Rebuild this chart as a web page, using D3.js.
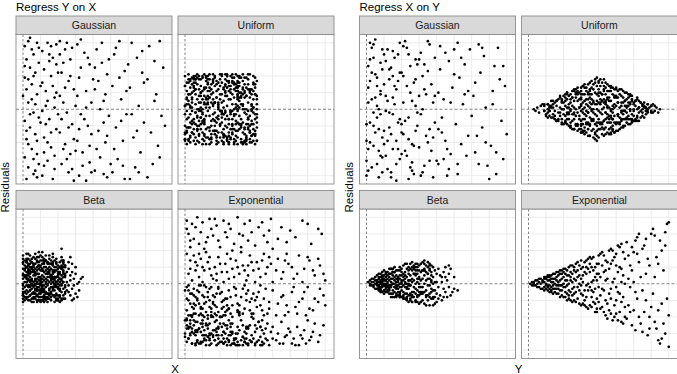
<!DOCTYPE html>
<html>
<head>
<meta charset="utf-8">
<title>Residual plots</title>
<style>
  body { margin: 0; background: #fff; }
  svg text { font-family: "Liberation Sans", Arial, sans-serif; }
</style>
</head>
<body>
<svg id="chart"></svg>
<script src="https://cdn.jsdelivr.net/npm/d3@7/dist/d3.min.js"></script>
<script>
// points, flat lists of x, residual (x in grid units*10, residual in grid units*10)
const yxGaussian = [
  1,38, 3,41, 5,36, 2,30, 6,33, 8,40, 4,25, 1,19, 7,22, 9,28, 2,12, 5,15, 8,9, 3,4, 6,-2, 1,-7, 4,-11, 9,-5, 2,-18, 7,-15, 5,-24, 1,-29, 8,-27, 3,-35, 6,-39, 9,-33, 2,-42, 4,-3, 7,3, 0,8, 10,14, 6,20, 3,-21, 8,-19, 1,26, 9,37, 5,6, 2,-13, 7,-37, 4,43, 10,-8, 6,-30, 3,18, 8,-41,
  11,35, 14,40, 17,31, 12,24, 16,20, 19,27, 13,11, 18,7, 11,-1, 15,-6, 19,-12, 12,-17, 16,-23, 14,-31, 18,-36, 11,-40, 13,2, 17,14, 20,-3, 15,29, 12,-26, 19,39, 16,-14, 14,5, 18,-28, 11,16, 20,22, 13,-9, 17,-42, 15,33, 19,10, 12,-34, 16,38, 14,-20, 18,1,
  21,41, 24,36, 27,30, 22,22, 26,17, 29,12, 23,4, 25,-2, 28,-9, 21,-14, 24,-21, 27,-27, 22,-33, 26,-38, 29,-43, 23,28, 28,37, 21,8, 25,-30, 29,-18, 22,-6, 27,20, 24,13, 26,-11, 30,2, 23,-24, 28,-36, 21,33, 25,40, 30,-25,
  31,39, 35,34, 38,27, 32,19, 36,11, 39,4, 33,-3, 37,-10, 31,-19, 34,-26, 38,-32, 32,-40, 36,-43, 33,25, 39,-15, 35,-6, 31,8, 37,31, 34,-34, 40,18, 32,-12, 38,-22, 36,1, 33,42, 39,-38,
  42,36, 45,28, 48,21, 41,12, 46,5, 49,-4, 43,-13, 47,-20, 44,-29, 41,-37, 48,-41, 45,40, 43,17, 49,30, 46,-8, 42,-24, 47,9, 44,0, 50,-33, 41,25, 48,-16, 46,-39,
  52,33, 55,41, 58,23, 51,14, 56,6, 59,-3, 53,-11, 57,-19, 54,-30, 51,-38, 58,-42, 55,19, 60,27, 52,-24, 56,-7, 59,11, 53,37, 57,-34,
  62,40, 65,31, 68,22, 61,13, 66,2, 69,-8, 63,-17, 67,-26, 64,-35, 61,-42, 68,35, 65,-13, 62,-3, 69,16, 66,-38,
  72,38, 75,29, 78,41, 71,18, 76,9, 79,-4, 73,-14, 77,-22, 74,-33, 71,-41, 80,25, 78,-29, 75,5, 81,-10
]
const yxUniform = [
  0,20, 3,17, 7,21, 9,14, 1,11, 5,13, 8,8, 2,5, 6,3, 10,6, 4,-1, 0,-3, 7,-4, 9,-9, 3,-8, 1,-14, 5,-12, 8,-16, 2,-19, 6,-21, 10,-18, 4,19, 8,18, 1,16, 6,9, 3,1, 9,1, 0,-10, 5,-6, 7,-13, 3,-17, 10,-21, 2,21, 5,16, 9,10, 1,7, 7,6, 4,10, 0,2, 6,-2, 10,-3, 2,-5, 8,-7, 4,-14, 0,-18, 6,-17, 9,-12, 3,13, 7,15, 10,19, 1,-21, 5,-19, 8,-20, 2,-11, 6,-9, 4,4, 9,-1, 0,14, 3,-3, 7,0, 5,20, 8,12, 2,9, 10,11, 1,-6, 6,12, 4,-9, 9,4, 3,-20, 7,-19, 0,-15, 5,-15, 10,-14, 2,18, 6,18, 8,-10, 1,3, 4,7,
  11,21, 14,18, 17,20, 19,16, 12,13, 15,15, 18,11, 13,8, 16,6, 20,9, 11,3, 14,1, 17,-2, 19,3, 12,-4, 15,-7, 18,-5, 13,-11, 16,-13, 20,-9, 11,-16, 14,-18, 17,-15, 19,-20, 12,-21, 15,-20, 18,-19, 13,18, 16,21, 20,18, 11,8, 14,11, 17,14, 19,12, 12,6, 15,4, 18,7, 13,-1, 16,-3, 20,-1, 11,-9, 14,-13, 17,-10, 19,-14, 12,-17, 15,-15, 18,-21, 13,15, 16,10, 20,14, 11,-6, 14,-4, 17,-7, 19,-4, 12,1, 15,-10, 18,-13, 13,20, 16,16, 20,21, 11,12, 14,7, 17,4, 19,0, 12,-12, 15,-18, 18,-16, 14,-21, 16,2, 13,4, 17,19, 11,-19, 20,-17, 15,9,
  21,20, 24,17, 27,21, 29,15, 22,13, 25,11, 28,12, 23,8, 26,6, 30,9, 21,4, 24,2, 27,-1, 29,3, 22,-3, 25,-6, 28,-4, 23,-10, 26,-12, 30,-8, 21,-14, 24,-17, 27,-15, 29,-19, 22,-21, 25,-20, 28,-18, 23,18, 26,20, 30,17, 21,9, 24,13, 27,16, 29,11, 22,5, 25,6, 28,7, 23,-1, 26,-2, 30,0, 21,-8, 24,-11, 27,-9, 29,-13, 22,-17, 25,-14, 28,-21, 23,15, 26,14, 30,20, 21,-5, 24,-4, 27,-6, 29,-3, 22,1, 25,-9, 28,-12, 23,21, 26,10, 30,13, 21,16, 24,8, 27,3, 29,-16, 22,-12, 25,-21, 28,0, 24,20, 26,-17, 23,11, 27,19, 21,-19, 30,-21, 25,16,
  31,19, 33,21, 36,18, 39,20, 41,17, 30,14, 34,15, 37,12, 40,13, 32,10, 35,8, 38,9, 41,6, 31,5, 33,2, 36,4, 39,1, 30,-1, 34,-2, 37,-4, 40,-3, 32,-6, 35,-9, 38,-7, 41,-11, 31,-12, 33,-14, 36,-11, 39,-15, 30,-17, 34,-19, 37,-18, 40,-21, 32,-20, 35,-16, 38,-20, 41,-19, 31,16, 33,17, 36,15, 39,16, 30,11, 34,11, 37,7, 40,9, 32,3, 35,0, 38,3, 41,0, 31,-4, 33,-8, 36,-6, 39,-9, 30,-13, 34,-15, 37,-14, 40,-16, 32,-18, 35,-21, 38,-16, 31,20, 34,19, 37,21, 40,19, 33,12, 36,12, 39,6, 32,7, 35,-3, 38,-1, 31,-9, 34,-11, 37,-20, 39,-12, 33,-21, 36,-1, 40,-6, 41,3, 30,7, 35,19,
  17,-7, 4,15, 33,3, 26,-18, 9,10, 39,-2, 12,19, 1,-13, 30,6, 22,-20, 6,12, 36,-5, 19,1, 27,17, 14,-11, 41,8, 3,-16, 24,20, 31,-9, 8,4, 37,-14, 11,13, 28,-3, 16,18, 0,-19, 34,7, 21,-1, 5,11, 40,-15, 13,16, 25,-6, 38,2, 7,-12, 29,21, 18,-8, 2,9, 35,-17, 23,14, 10,0, 32,-10,
  17,-13, 4,6, 33,-20, 26,12, 9,-5, 39,1, 12,17, 1,-11, 30,8, 22,-16, 6,20, 36,-9, 19,4, 27,-14, 14,13, 41,-3, 3,18, 24,-19, 31,7, 8,-1, 37,11, 11,-15, 28,16, 16,-6, 0,2, 34,-12, 21,21, 5,-8, 40,9, 13,-17, 25,14, 38,0, 7,-10, 29,-7, 18,15, 2,3, 35,-18, 23,10, 10,-2, 32,19,
  17,4, 4,-14, 33,13, 26,-3, 9,18, 39,-19, 12,7, 1,-1, 30,11, 22,-15, 6,16, 36,-6, 19,2, 27,-12, 14,21, 41,-8, 3,9, 24,-17, 31,14, 8,0, 37,-10, 11,-7, 28,15, 16,3, 0,-18, 34,10, 21,-2, 5,19, 40,-13, 13,6, 25,-20, 38,12, 7,-5, 29,1, 18,17, 2,-11, 35,8, 23,-16, 10,20, 32,-9,
  18,-17, 5,14, 34,0, 27,-10, 10,-7, 40,15, 13,3, 2,-18, 31,10, 23,-2, 7,19, 37,-13, 20,6, 28,-20, 15,12, 41,-5, 4,1, 25,17, 32,-11, 9,8, 38,-16, 12,20, 29,-9, 17,4, 1,-14, 35,13, 22,-3, 6,18, 41,-19, 14,7, 26,-1, 39,11, 8,-15, 30,16, 19,-6, 3,2, 36,-12, 24,21, 11,-8, 33,9,
  16,17, 3,-11, 32,8, 25,-16, 8,20, 38,-9, 11,4, 0,-14, 29,13, 21,-3, 5,18, 35,-19, 18,7, 26,-1, 13,11, 40,-15, 2,16, 23,-6, 30,2, 7,-12, 36,21, 10,-8, 27,9, 15,-17, 0,14, 33,0, 20,-10, 4,-7, 39,15, 12,3, 24,-18, 37,10, 6,-2, 28,19, 17,-13, 1,6, 34,-20, 22,12, 9,-5, 31,1
]
const yxBeta = [
  0,12, 2,15, 4,17, 1,9, 3,11, 5,13, 6,16, 0,6, 2,4, 4,8, 6,10, 1,1, 3,-1, 5,3, 0,-3, 2,-6, 4,-4, 6,-2, 1,-8, 3,-10, 5,-9, 0,-11, 2,-1, 4,1, 6,5, 1,14, 3,18, 5,7, 0,17, 2,10, 4,-7, 6,-8, 1,-5, 3,5, 5,-6, 0,0, 2,-9, 4,12, 6,-11, 1,4, 3,8, 5,0, 0,9, 2,13, 4,-10, 6,1, 1,-10, 3,2, 5,-3, 0,-7, 2,7, 4,4, 6,12, 3,15, 5,10, 1,-2, 3,-5, 5,15, 2,18, 0,3, 6,-5, 4,-1, 1,11, 3,-8, 5,-11, 2,-4, 6,8, 0,15, 4,14, 2,1,
  7,18, 9,16, 11,19, 8,13, 10,14, 12,12, 7,9, 9,11, 11,8, 8,6, 10,4, 12,7, 7,2, 9,0, 11,3, 8,-2, 10,-4, 12,-1, 7,-6, 9,-8, 11,-5, 8,-10, 10,-11, 12,-9, 7,15, 9,13, 11,16, 8,10, 10,8, 12,10, 7,5, 9,6, 11,1, 8,1, 10,-1, 12,-5, 7,-3, 9,-4, 11,-8, 8,-7, 10,-8, 12,-11, 9,19, 11,12, 7,12, 10,17, 12,15, 8,16, 9,2, 11,-2, 7,-9, 10,0, 12,2, 8,-4, 9,-10, 11,-10, 7,-1, 10,11, 12,4, 8,3, 9,9, 11,5, 7,7, 10,-6, 12,-7, 8,-11, 9,-6, 11,14, 10,2,
  13,17, 15,15, 17,16, 14,13, 16,12, 18,14, 13,10, 15,8, 17,11, 14,6, 16,5, 18,7, 13,3, 15,1, 17,4, 14,-1, 16,-2, 18,0, 13,-5, 15,-6, 17,-4, 14,-9, 16,-10, 18,-8, 13,14, 15,12, 17,13, 14,9, 16,9, 18,10, 13,6, 15,4, 17,6, 14,2, 16,0, 18,3, 13,-2, 15,-3, 17,-7, 14,-6, 16,-8, 18,-11, 15,17, 17,18, 13,-9, 16,14, 14,-11, 18,-4, 15,-9, 17,1, 13,0, 16,3, 14,4, 18,-2, 15,10, 17,8, 13,8, 16,-5,
  19,15, 21,13, 23,14, 20,11, 22,9, 24,11, 19,8, 21,6, 23,7, 20,4, 22,2, 24,5, 19,1, 21,-1, 23,1, 20,-3, 22,-5, 24,-2, 19,-6, 21,-8, 23,-7, 20,-10, 22,-9, 24,-6, 19,12, 21,10, 23,10, 20,7, 22,5, 25,7, 19,4, 21,3, 23,-3, 20,0, 22,-1, 25,-4, 19,-2, 21,-4, 24,-9, 20,-7, 22,16, 19,-9, 23,4, 25,1, 21,-11,
  26,9, 28,12, 27,5, 29,3, 26,-1, 28,-3, 27,-7, 29,-9, 30,6, 31,0, 32,-4, 26,13, 28,7, 30,-6, 27,2, 33,3, 29,-1, 31,-8, 26,-5, 34,4, 30,10, 28,-10, 32,1, 27,16, 22,21,
  11,-4, 3,9, 19,1, 7,-8, 23,12, 0,-1, 15,6, 9,-10, 21,3, 5,13, 13,-6, 1,8, 17,-2, 24,10, 8,0, 20,-9, 2,5, 12,-3, 6,11, 18,-7, 4,2, 22,14, 10,-5, 14,7, 16,4,
  11,-1, 3,6, 19,-10, 7,3, 23,13, 0,-6, 15,8, 9,-2, 21,10, 5,0, 13,-9, 1,5, 17,-3, 24,11, 8,-7, 20,2, 2,14, 12,-5, 6,7, 18,4, 4,-4, 22,9, 10,1, 14,-8, 16,12,
  11,8, 3,-2, 19,10, 7,0, 23,-9, 0,5, 15,-3, 9,11, 21,-7, 5,2, 13,14, 1,-5, 17,7, 24,4, 8,-4, 20,9, 2,1, 12,-8, 6,12, 18,-1, 4,6, 22,-10, 10,3, 14,13, 16,-6,
  11,-3, 3,11, 19,-7, 7,2, 23,14, 0,-5, 15,7, 9,4, 21,-4, 5,9, 13,1, 1,-8, 17,12, 24,-1, 8,6, 20,-10, 2,3, 12,13, 6,-6, 18,8, 4,-2, 22,10, 10,0, 14,-9, 16,5,
  2,-8, 14,12, 6,-1, 20,6, 10,-10, 22,3, 0,13, 16,-6, 8,8, 24,-2, 4,10, 18,0, 12,-9, 1,5, 21,-3, 9,11, 15,-7, 5,2, 23,8, 13,-5, 3,7, 19,4, 7,-4, 11,9, 17,1,
  2,13, 14,-6, 6,8, 20,-2, 10,10, 22,0, 0,-9, 16,5, 8,-3, 24,6, 4,-7, 18,2, 12,14, 1,-5, 21,7, 9,4, 15,-4, 5,9, 23,1, 13,-8, 3,12, 19,-1, 7,6, 11,-10, 17,3,
  2,10, 14,0, 6,-9, 20,5, 10,-3, 22,11, 0,-7, 16,2, 8,14, 24,-5, 4,7, 18,4, 12,-4, 1,9, 21,1, 9,-8, 15,12, 5,-1, 23,6, 13,-10, 3,3, 19,13, 7,-6, 11,8, 17,-2
]
const yxExponential = [
  1,38, 4,36, 7,40, 10,37, 14,39, 18,35, 22,38, 26,33, 30,40, 34,36, 38,31, 44,37, 49,39, 55,34, 60,32, 67,38, 70,36, 76,33, 2,30, 5,27, 9,31, 12,25, 16,29, 20,22, 24,28, 28,24, 31,30, 36,26, 40,23, 45,29, 50,21, 58,25, 63,28, 72,24, 78,30, 3,22, 6,34, 11,21, 15,33, 19,26, 23,31, 27,20, 33,29, 42,34, 47,25, 53,27, 3,26, 8,24, 13,28, 17,39, 25,36, 32,22, 37,38, 1,33, 48,32,
  1,18, 3,14, 5,17, 7,11, 9,15, 11,8, 13,13, 15,5, 17,10, 19,16, 21,7, 23,12, 25,3, 27,9, 29,14, 31,6, 33,11, 35,2, 37,17, 39,8, 41,13, 43,4, 45,18, 47,10, 50,1, 53,15, 56,7, 59,12, 62,3, 65,17, 68,9, 71,14, 74,5, 77,11, 80,2, 2,6, 4,2, 6,8, 8,4, 10,1, 12,19, 14,9, 16,3, 18,6, 20,12, 22,1, 24,18, 26,15, 28,4, 30,10, 32,19, 34,8, 36,5, 38,13, 40,1, 42,9, 44,14, 46,6, 48,16, 52,8, 55,3, 58,18, 61,10, 64,6, 67,1, 70,16, 73,8, 76,15, 79,6, 6,13, 10,10, 14,16, 18,2, 3,9, 8,18, 24,7, 36,11, 49,12, 57,14,
  1,-2, 3,-6, 5,-3, 7,-9, 9,-1, 11,-12, 13,-5, 15,-15, 17,-8, 19,-2, 21,-11, 23,-17, 25,-4, 27,-13, 29,-7, 31,-19, 33,-3, 35,-10, 37,-16, 39,-6, 41,-14, 43,-1, 45,-9, 47,-18, 50,-4, 53,-12, 56,-7, 59,-17, 62,-2, 65,-11, 68,-5, 71,-15, 74,-9, 77,-3, 80,-13, 2,-10, 4,-14, 6,-18, 8,-12, 10,-7, 12,-17, 14,-3, 16,-11, 18,-19, 20,-6, 22,-14, 24,-9, 26,-18, 28,-2, 30,-12, 32,-8, 34,-15, 36,-4, 38,-20, 40,-10, 42,-5, 44,-16, 46,-3, 48,-11, 52,-19, 55,-8, 58,-13, 61,-5, 64,-18, 67,-9, 70,-2, 73,-16, 76,-11, 79,-7, 1,-16, 3,-19, 5,-12, 7,-4, 9,-15, 11,-8, 13,-19, 15,-2, 17,-13, 19,-17, 21,-5, 23,-9, 25,-15, 27,-20, 29,-3, 31,-13, 33,-18, 35,-6, 37,-11, 39,-18, 41,-8, 43,-13, 45,-19, 2,-4, 6,-8, 10,-19, 14,-10, 18,-14, 22,-19, 26,-8, 30,-17, 34,-1, 38,-9, 48,-15, 57,-19, 63,-14, 69,-19, 4,-20, 8,-1, 12,-2, 16,-7, 20,-20,
  1,-22, 3,-26, 5,-30, 7,-34, 9,-24, 11,-28, 13,-32, 15,-36, 17,-23, 19,-27, 21,-31, 23,-35, 25,-22, 27,-29, 29,-33, 31,-37, 33,-25, 35,-30, 37,-34, 39,-21, 41,-27, 43,-32, 45,-36, 47,-24, 49,-29, 52,-34, 55,-23, 58,-31, 61,-36, 64,-26, 67,-33, 70,-22, 73,-29, 76,-35, 79,-25, 2,-33, 4,-29, 6,-23, 8,-36, 10,-31, 12,-25, 14,-34, 16,-28, 18,-37, 20,-24, 22,-29, 24,-33, 26,-26, 28,-36, 30,-30, 32,-22, 34,-35, 36,-27, 38,-31, 40,-36, 42,-23, 44,-28, 46,-33, 48,-37, 50,-26, 53,-30, 56,-36, 59,-27, 62,-33, 65,-37, 68,-28, 71,-34, 74,-24, 77,-31, 1,-35, 3,-31, 5,-25, 7,-28, 9,-35, 11,-33, 13,-27, 15,-30, 17,-34, 19,-36, 21,-26, 23,-30, 25,-34, 27,-24, 29,-37, 31,-28, 33,-32, 35,-36, 37,-25, 39,-33, 41,-35, 43,-26, 45,-30, 47,-34, 2,-27, 4,-36, 6,-31, 8,-27, 10,-35, 12,-37, 14,-24, 16,-32, 18,-31, 20,-35, 22,-36, 24,-27, 26,-31, 28,-33, 30,-35, 32,-34, 34,-29, 36,-37, 38,-35, 40,-29, 44,-35, 46,-27, 50,-33, 54,-36, 57,-32, 60,-29, 63,-37, 66,-31, 69,-36, 72,-32, 6,-36, 10,-26, 14,-37, 18,-29, 22,-33, 26,-37, 30,-26, 35,-33,
  12,-31, 3,-22, 27,-36, 8,-27, 38,-18, 19,-33, 1,-25, 33,-37, 15,-20, 6,-29, 24,-16, 42,-34, 10,-24, 29,-30, 4,-19, 21,-35, 36,-26, 13,-21, 0,-32, 31,-17, 17,-28, 44,-37, 7,-23, 25,-15, 2,-33, 35,-27, 11,-20, 22,-36, 40,-25, 14,-30, 5,-18, 28,-34, 18,-22, 9,-29, 34,-35, 23,-19, 43,-26, 16,-31, 26,-24, 30,-37,
  12,-34, 3,-24, 27,-30, 8,-19, 38,-35, 19,-26, 1,-21, 33,-32, 15,-17, 6,-28, 24,-37, 42,-23, 10,-15, 29,-33, 4,-27, 21,-20, 36,-36, 13,-25, 0,-30, 31,-18, 17,-34, 44,-22, 7,-29, 25,-35, 2,-19, 35,-26, 11,-31, 22,-24, 40,-37, 14,-31, 5,-22, 28,-36, 18,-27, 9,-18, 34,-33, 23,-25, 43,-37, 16,-20, 26,-29, 30,-16,
  5,-15, 14,-33, 1,-27, 20,-20, 9,-36, 24,-25, 3,-30, 17,-18, 11,-34, 0,-22, 22,-29, 7,-35, 15,-19, 2,-26, 19,-31, 12,-24, 6,-37, 25,-31, 10,-22, 4,-36,
  3,-12, 8,-5, 14,-14, 1,-9, 19,-3, 6,-13, 11,-1, 22,-10, 4,-6, 16,-12, 9,-14, 0,-4, 13,-8, 24,-13, 7,-10, 18,-6, 2,-1, 21,-15, 5,-7, 12,-11
]
const xyGaussian = [
  3,37, 7,-12, 1,4, 9,-29, 5,21, 0,-40, 8,9, 2,30, 6,-5, 4,-22, 10,15, 3,-35, 7,0, 1,26, 9,-17, 5,42, 2,-8, 8,11, 0,-31, 6,19, 4,-2, 10,33, 7,-25, 3,6, 9,-38, 1,13, 5,-14, 8,28, 2,-20, 6,2, 4,39, 0,-9,
  13,24, 17,-33, 11,8, 19,-6, 15,35, 12,-19, 18,17, 14,-41, 16,3, 20,-27, 11,29, 13,-11, 19,40, 15,-3, 17,12, 12,-36, 20,22, 14,-15, 18,-24, 16,31, 11,-1, 13,18, 19,-30, 15,7, 17,-43, 12,36, 20,-9, 14,25,
  24,-18, 21,38, 28,2, 26,-32, 23,14, 29,27, 22,-7, 27,-39, 25,10, 30,-23, 21,20, 24,33, 28,-13, 26,5, 23,-28, 29,-2, 22,41, 27,16, 25,-35, 30,8, 21,-15, 24,-42, 28,30, 26,-21,
  33,12, 37,-25, 31,34, 39,-8, 35,23, 32,-38, 38,4, 34,-16, 36,39, 40,-31, 31,-3, 33,27, 37,15, 35,-20, 39,31, 32,0, 38,-41, 36,-12,
  43,-5, 47,29, 41,-33, 49,13, 45,-19, 42,38, 48,-27, 44,6, 46,-40, 50,21, 41,10, 43,-14, 47,-36, 45,34,
  53,19, 57,-28, 51,-9, 59,36, 55,3, 52,-39, 58,11, 54,-21, 56,27, 60,-4, 52,40,
  63,-16, 67,32, 61,8, 69,-34, 65,22, 62,-26, 68,1, 64,39, 66,-11, 70,-42,
  73,26, 77,-7, 71,-22, 79,14, 75,37, 72,3, 78,-30, 74,-39, 76,18, 80,-15,
  2,17, 6,-33, 9,24, 0,-19, 4,31, 8,-3, 1,-24, 5,7, 10,-13, 3,22, 7,-41, 9,36, 1,-37, 6,14, 4,-10, 8,-28, 2,40, 10,-21,
  12,5, 15,-24, 18,33, 14,-38, 16,14, 20,-14, 11,-28, 19,22, 13,-2, 17,-19, 15,20, 18,-8,
  22,-25, 25,26, 29,-10, 23,37, 27,-22, 21,4, 26,-37, 30,30, 24,-5, 28,18,
  32,20, 36,-31, 34,9, 38,-17, 31,-40, 39,8, 35,41, 33,-34,
  42,24, 46,-24, 48,4, 44,-30, 50,36, 41,-12, 54,31, 58,-16, 52,-33, 56,9,
  62,16, 68,-20, 66,37, 64,-33, 74,-26, 78,26, 72,11
]
const xyUniform = [
  3,0, 5,1, 6,-2, 8,3, 9,-1, 7,2, 10,-4, 4,-1, 9,2,
  11,3, 12,-4, 13,1, 14,5, 15,-6, 16,2, 17,-2, 18,7, 19,-8, 20,4, 11,-2, 13,-5, 15,4, 17,6, 19,0, 12,2, 14,-3, 16,-7, 18,-4, 20,8, 11,0, 13,5, 15,-1, 17,-6, 19,5, 20,-3, 14,1, 16,5, 18,1, 12,-1, 19,-9, 20,0,
  21,9, 22,-6, 23,3, 24,-11, 25,7, 26,-2, 27,12, 28,-9, 29,1, 30,-14, 21,-4, 22,6, 23,-10, 24,4, 25,-7, 26,11, 27,-4, 28,5, 29,-12, 30,9, 21,2, 22,-9, 23,8, 24,-1, 25,11, 26,-12, 27,0, 28,13, 29,-6, 30,3, 21,-8, 23,-2, 25,-3, 27,7, 29,10, 22,1, 24,-8, 26,5, 28,-2, 30,-7, 21,5, 23,-6, 25,2, 27,-10, 29,6, 22,10, 24,9, 26,-6, 28,-13, 30,13, 22,-3, 24,0, 26,1, 28,9,
  31,14, 32,-11, 33,6, 34,-16, 35,1, 36,17, 37,-7, 38,10, 39,-19, 30,-1, 31,-13, 32,9, 33,-4, 34,15, 35,-10, 36,3, 37,12, 38,-15, 39,5, 31,4, 32,-3, 33,13, 34,-8, 35,16, 36,-13, 37,0, 38,18, 39,-10, 30,7, 31,-6, 32,15, 33,-14, 34,2, 35,-5, 36,9, 37,-17, 38,-3, 39,14, 31,-9, 32,1, 33,-1, 34,10, 35,-16, 36,-6, 37,5, 38,-9, 39,19, 30,11, 31,9, 32,-15, 33,11, 34,-12, 35,7, 36,-1, 37,15, 38,3, 39,-4, 31,-2, 33,-9, 35,12, 37,-12, 39,9, 32,5, 34,-2, 36,13, 38,-18, 30,-10, 34,6,
  40,17, 41,-12, 42,5, 43,-16, 44,9, 45,-3, 46,14, 47,-8, 48,2, 40,-6, 41,10, 42,-15, 43,1, 44,-11, 45,15, 46,-4, 47,11, 48,-13, 40,4, 41,-2, 42,16, 43,-7, 44,13, 45,-14, 46,7, 47,-1, 48,9, 40,-17, 41,14, 42,-8, 43,11, 44,-2, 45,6, 46,-12, 47,14, 48,-6, 40,12, 41,3, 42,-3, 43,18, 44,-15, 45,-8, 46,1, 47,-15, 48,13, 40,-1, 41,-9, 42,9, 43,-12, 44,4, 45,11, 46,-15, 47,5, 48,-10, 40,8, 42,-11, 44,-6, 46,11, 48,-2, 41,18, 43,6, 45,1, 47,-4, 40,-12, 42,0, 44,16, 46,-8,
  49,12, 50,-9, 51,4, 52,-12, 53,8, 54,-3, 55,10, 56,-8, 57,2, 58,-6, 49,-4, 50,7, 51,-13, 52,1, 53,-7, 54,11, 55,-1, 56,6, 57,-9, 58,8, 49,-14, 50,2, 51,11, 52,-5, 53,12, 54,-10, 55,5, 56,-2, 57,7, 58,0, 49,3, 50,-13, 51,-3, 52,9, 53,-1, 54,4, 55,-6, 56,10, 57,-4, 58,-9, 49,8, 51,7, 53,-11, 55,-10, 57,9, 50,12, 52,-9, 54,-6, 56,1, 58,3, 49,-8, 51,-8, 53,4, 55,2,
  59,6, 60,-7, 61,2, 62,-4, 63,5, 64,-1, 65,3, 66,-5, 67,1, 68,-2, 59,-3, 60,4, 61,-6, 62,6, 63,-2, 64,4, 65,-4, 66,2, 67,-3, 68,3, 59,8, 60,0, 61,5, 62,-7, 63,1, 64,-5, 65,0, 66,4, 67,-1, 59,-8,
  69,1, 70,-2, 71,3, 72,-1, 73,1, 74,-2, 75,0, 70,2, 72,2,
  36,6, 21,-7, 52,12, 44,-2, 14,3, 61,-7, 29,1, 40,-8, 9,3, 57,-6, 33,3, 48,-12, 25,7, 67,-1, 38,16, 18,-2, 55,5, 42,-9, 31,0, 63,-7,
  46,5, 27,-9, 50,13, 12,-1, 59,5, 35,-16, 23,1, 43,-7, 70,2, 30,-9, 53,2, 39,-16, 16,5, 65,-2, 47,13, 26,-3, 58,4, 34,-9, 20,0, 49,-14,
  41,6, 28,-10, 62,7, 37,-2, 24,6, 54,-11, 45,2, 32,-6, 68,3, 19,-6, 56,2, 39,-13, 11,3, 51,-4, 43,14, 22,-2, 60,3, 35,-9, 47,0, 30,-14,
  36,-7, 21,7, 52,-8, 44,3, 14,-5, 61,5, 29,-4, 40,16, 9,-1, 57,4, 33,-8, 48,0, 25,-12, 67,1, 38,-14, 18,8, 55,-1, 42,9, 31,-14, 63,1,
  46,-6, 27,9, 50,-8, 12,1, 59,-7, 35,11, 23,-3, 43,12, 70,-1, 30,6, 53,-6, 39,0, 16,-7, 65,2, 47,-11, 26,12, 58,-1, 34,9, 20,-9, 49,1,
  41,-8, 28,10, 62,-5, 37,4, 24,-10, 54,7, 45,-5, 32,13, 68,-1, 19,4, 56,-5, 39,3, 11,-5, 51,4, 43,-12, 22,10, 60,-1, 35,9, 47,-14, 30,2,
  37,-6, 22,9, 53,-2, 45,7, 15,-4, 62,0, 30,-12, 41,4, 10,-3, 58,9, 34,-2, 49,7, 26,-12, 68,0, 39,-8, 19,6, 56,-6, 43,4, 32,-13, 64,4,
  47,-5, 28,11, 51,-3, 13,2, 60,-4, 36,0, 24,-11, 44,5, 71,-2, 31,14, 54,-1, 40,10, 17,-7, 66,1, 48,-6, 27,10, 59,-6, 35,4, 21,-8, 50,8
]
const xyBeta = [
  1,1, 2,0, 2,2, 3,-1, 3,3, 4,1, 4,-2, 5,4, 5,0, 5,-3, 6,2, 6,-1, 6,5, 4,3, 3,1, 5,2, 6,-3, 2,-1, 4,-1, 6,0,
  7,6, 8,-4, 9,2, 10,-1, 11,7, 7,-2, 8,4, 9,-5, 10,5, 11,-3, 12,1, 7,3, 8,0, 9,7, 10,-4, 11,4, 12,-5, 7,-4, 8,6, 9,-2, 10,2, 11,0, 12,7, 7,1, 8,-3, 9,4, 10,8, 11,-5, 12,3, 8,2, 9,-1, 10,-6, 11,6, 12,-2, 7,4, 9,5, 10,0, 11,2, 12,-4, 8,-5, 10,3, 11,-1, 12,5, 9,0, 7,-1,
  13,9, 14,-6, 15,3, 16,-2, 17,8, 18,-7, 19,5, 20,0, 13,-4, 14,6, 15,-8, 16,10, 17,-1, 18,4, 19,-5, 20,9, 13,2, 14,-1, 15,7, 16,-5, 17,3, 18,-3, 19,10, 20,-8, 13,6, 14,-8, 15,0, 16,4, 17,-6, 18,8, 19,-2, 20,5, 13,-1, 14,3, 15,-4, 16,7, 17,1, 18,-1, 19,-8, 20,2, 13,4, 14,9, 15,-6, 16,-8, 17,5, 18,1, 19,3, 20,-4, 14,1, 16,2, 18,-5, 20,7, 15,5, 17,-3, 19,0, 13,-6, 15,9, 17,-8, 19,8, 20,-2,
  21,11, 22,-9, 23,4, 24,-3, 25,12, 26,-11, 27,6, 28,-6, 29,1, 30,-12, 21,-5, 22,7, 23,-10, 24,10, 25,-1, 26,3, 27,-8, 28,12, 29,-4, 30,8, 21,2, 22,-2, 23,9, 24,-7, 25,5, 26,-5, 27,11, 28,0, 29,-11, 30,3, 21,-9, 22,12, 23,0, 24,-11, 25,-6, 26,8, 27,-2, 28,5, 29,10, 30,-7, 21,6, 22,3, 23,-6, 24,6, 25,-9, 26,1, 27,2, 28,-10, 29,6, 30,-2, 22,-6, 24,2, 26,-8, 28,8, 30,11, 21,-1, 23,-3, 25,9, 27,-5, 29,-8, 23,12, 26,13, 28,-3, 30,0, 24,-1, 27,9, 22,0, 25,2, 29,3, 21,4,
  31,12, 32,-10, 33,5, 34,-4, 35,13, 36,-13, 37,7, 38,-8, 39,1, 40,-11, 31,-6, 32,8, 33,-12, 34,11, 35,-1, 36,3, 37,-9, 38,10, 39,-4, 40,6, 31,2, 32,-2, 33,14, 34,-8, 35,6, 36,-6, 37,11, 38,0, 39,-12, 40,1, 31,-11, 32,13, 33,0, 34,-13, 35,-7, 36,9, 37,-3, 38,4, 39,8, 40,-6, 31,7, 32,3, 33,-5, 34,2, 35,-10, 36,-1, 37,2, 38,-13, 39,-8, 31,-2, 34,7, 36,12, 38,-4, 33,9, 35,3,
  41,9, 42,-7, 43,4, 44,-3, 45,10, 46,-8, 47,6, 48,9, 49,-5, 50,4, 41,-2, 42,5, 43,-10, 44,7, 45,-5, 46,2, 47,-2, 48,-7, 50,-3, 52,-4, 41,-9, 43,1, 44,-8, 45,4, 47,11,
  18,3, 7,-2, 29,12, 12,-1, 35,6, 23,-9, 9,1, 31,-5, 15,7, 26,-7, 6,1, 21,-8, 33,8, 11,-2, 27,10, 17,-2, 37,5, 13,-3, 24,0, 8,-4, 30,4, 19,-6, 36,11, 14,-1, 28,6, 10,-4, 22,1, 32,-5, 16,7, 25,-7,
  18,2, 7,-3, 29,8, 12,-2, 35,10, 23,-2, 9,3, 31,-6, 15,0, 26,-11, 6,2, 21,-7, 33,12, 11,-1, 27,6, 17,-7, 37,1, 13,-2, 24,8, 8,-2, 30,3, 19,-7, 36,8, 14,-2, 28,10, 10,-1, 22,5, 32,-6, 16,0, 25,-10,
  19,-8, 8,1, 30,-5, 13,6, 36,-8, 24,2, 10,-4, 32,8, 16,-2, 27,10, 7,-1, 22,5, 34,-7, 12,0, 28,-11, 18,3, 38,-9, 14,9, 25,-1, 9,4, 31,-11, 20,1, 37,-5, 15,7, 29,-7, 11,2, 23,-8, 33,8, 17,-2, 26,10
]
const xyExponential = [
  1,0, 2,1, 3,-1, 4,2, 5,-2, 6,1, 7,3, 8,-3, 2,-1, 3,1, 4,-1, 5,2, 6,-2, 7,0, 8,2, 3,0, 5,0, 6,3, 7,-3, 8,1,
  9,4, 10,-3, 11,2, 12,-5, 13,5, 14,-1, 15,6, 16,-6, 9,-2, 10,3, 11,-4, 12,4, 13,-2, 14,6, 15,-5, 16,2, 9,1, 10,-1, 11,5, 12,-1, 13,-5, 14,3, 15,0, 16,7, 9,-4, 10,4, 11,-1, 12,2, 13,1, 14,-6, 15,3, 16,-3, 10,0, 12,5, 14,-3, 16,-1, 11,-2, 13,3, 15,-3, 9,3, 12,-3, 14,1, 16,4, 11,4, 13,-4,
  17,7, 18,-4, 19,3, 20,-8, 21,9, 22,-1, 23,5, 24,-10, 25,11, 26,-6, 17,-3, 18,6, 19,-7, 20,4, 21,-5, 22,8, 23,-9, 24,2, 25,-3, 26,10, 17,1, 18,-8, 19,8, 20,-2, 21,2, 22,-10, 23,0, 24,7, 25,-11, 26,3, 17,-6, 18,2, 19,-1, 20,9, 21,-8, 22,5, 23,-4, 24,11, 25,6, 26,-2, 17,5, 19,-4, 21,6, 23,10, 25,-7, 18,-1, 20,0, 22,-6, 24,-5, 26,-10, 17,-1, 19,6, 21,-2, 23,-7, 25,1, 20,7, 22,2, 24,4, 26,8, 18,8,
  27,12, 28,-9, 29,5, 30,-13, 31,10, 32,-4, 33,14, 34,-15, 35,7, 36,-8, 37,16, 38,-17, 39,2, 40,-11, 27,-5, 28,8, 29,-12, 30,3, 31,-7, 32,13, 33,-1, 34,9, 35,-13, 36,15, 37,-5, 38,10, 39,-15, 40,6, 27,2, 28,-2, 29,11, 30,-6, 31,1, 32,-10, 33,6, 34,-4, 35,16, 36,1, 37,-11, 38,4, 39,12, 40,17, 27,-11, 28,13, 29,-4, 30,9, 31,-12, 32,7, 33,-8, 34,15, 35,-2, 36,-14, 37,8, 38,-3, 39,-9, 40,-2, 28,4, 30,14, 32,-13, 34,0, 36,10, 38,-12, 40,12, 29,0, 31,5, 33,-14, 35,12, 37,2, 39,6, 27,7, 30,-1, 33,10, 36,-4, 39,-17,
  41,18, 42,-14, 43,7, 44,-19, 45,13, 46,-6, 47,21, 48,-22, 49,3, 50,-10, 51,23, 52,-17, 53,9, 54,-24, 55,15, 41,-7, 42,11, 43,-17, 44,2, 45,-12, 46,20, 47,-3, 48,14, 49,-20, 50,18, 51,-5, 52,10, 53,-23, 54,5, 55,-14, 41,4, 42,19, 43,-4, 44,14, 45,-21, 46,9, 47,-9, 48,1, 49,16, 50,-18, 51,7, 52,22, 53,-11, 54,19, 55,0, 42,-3, 44,-10, 46,-16, 48,20, 50,-2, 52,-6, 54,-8, 43,17, 45,3, 47,12, 49,-13, 51,-22, 53,24, 55,-20, 41,-15, 44,8, 47,-18, 50,11, 53,1,
  56,25, 57,-13, 58,11, 59,-25, 60,19, 61,-5, 62,28, 63,-20, 64,4, 65,-29, 66,23, 67,-10, 68,15, 69,-27, 70,30, 56,-21, 57,17, 58,-2, 59,8, 60,-16, 61,26, 62,-9, 63,13, 64,-24, 65,21, 66,-17, 67,6, 68,-31, 69,11, 70,-14, 57,3, 59,22, 61,-28, 63,30, 65,-4, 67,27, 69,-20, 58,-17, 60,1, 62,18,
  71,33, 72,-23, 73,16, 74,-34, 75,26, 76,-12, 77,8, 78,-30, 79,36, 80,-19, 71,-6, 72,29, 73,-27, 74,12, 75,-36, 76,20, 77,-24, 78,31, 79,-9, 80,37, 72,4, 74,-16, 76,-33, 78,23, 80,-38
]

const plotTitles = ["Regress Y on X", "Regress X on Y"]
const xTitles = ["X", "Y"]
const yTitle = "Residuals"
const facetNames = ["Gaussian", "Uniform", "Beta", "Exponential"]
const facetData = [
  [yxGaussian, yxUniform, yxBeta, yxExponential],
  [xyGaussian, xyUniform, xyBeta, xyExponential]
]
const xGrid = [10, 20, 30, 40, 50, 60, 70, 80]
const yGrid = [-40, -30, -20, -10, 10, 20, 30, 40]

var width = 677, height = 374
var plotLeft = [16, 359.5]
var panelW = 156, gapX = 6
var rowTop = [16, 190.5], rowH = 168, stripH = 18.5

var svg = d3.select("#chart")
    .attr("width", width)
    .attr("height", height)

function pairs(arr) {
    return d3.range(0, arr.length, 2).map(i => [arr[i], arr[i + 1]])
}

plotTitles.forEach((title, p) => {
    var left = plotLeft[p]
    var right = left + 2 * panelW + gapX

    svg.append("text")
        .attr("x", left)
        .attr("y", 10.5)
        .attr("font-size", "11.5px")
        .attr("fill", "#000")
        .text(title)

    svg.append("text")
        .attr("transform", `translate(${left - 7}, ${(rowTop[0] + rowTop[1] + rowH) / 2}) rotate(-90)`)
        .attr("text-anchor", "middle")
        .attr("font-size", "11.5px")
        .text(yTitle)

    svg.append("text")
        .attr("x", (left + right) / 2)
        .attr("y", 373)
        .attr("text-anchor", "middle")
        .attr("font-size", "11.5px")
        .text(xTitles[p])

    facetNames.forEach((name, k) => {
        var col = k % 2, row = Math.floor(k / 2)
        var x0 = left + col * (panelW + gapX), x1 = x0 + panelW
        var top = rowTop[row], y0 = top + stripH, y1 = top + rowH

        var xScale = d3.scaleLinear().domain([-4, 85]).range([x0, x1])
        var yScale = d3.scaleLinear().domain([-45, 45]).range([y1, y0])

        var g = svg.append("g")
        var clipId = `clip-${p}-${k}`
        g.append("clipPath").attr("id", clipId)
            .append("rect")
            .attr("x", x0).attr("y", y0)
            .attr("width", panelW).attr("height", y1 - y0)

        g.append("rect")
            .attr("x", x0).attr("y", y0)
            .attr("width", panelW).attr("height", y1 - y0)
            .attr("fill", "#fff")

        g.append("g").selectAll("line")
            .data(xGrid).enter().append("line")
            .attr("x1", d => xScale(d)).attr("x2", d => xScale(d))
            .attr("y1", y0).attr("y2", y1)
            .attr("stroke", "#e6e6e6").attr("stroke-width", 0.8)

        g.append("g").selectAll("line")
            .data(yGrid).enter().append("line")
            .attr("x1", x0).attr("x2", x1)
            .attr("y1", d => yScale(d)).attr("y2", d => yScale(d))
            .attr("stroke", "#e6e6e6").attr("stroke-width", 0.8)

        // reference lines at zero
        g.append("line")
            .attr("x1", xScale(0)).attr("x2", xScale(0))
            .attr("y1", y0).attr("y2", y1)
            .attr("stroke", "#666").attr("stroke-width", 0.8)
            .attr("stroke-dasharray", "2.5,2")
        g.append("line")
            .attr("x1", x0).attr("x2", x1)
            .attr("y1", yScale(0)).attr("y2", yScale(0))
            .attr("stroke", "#666").attr("stroke-width", 0.8)
            .attr("stroke-dasharray", "3,2")

        g.append("g")
            .attr("clip-path", `url(#${clipId})`)
            .selectAll("circle")
            .data(pairs(facetData[p][k]))
            .enter()
            .append("circle")
            .attr("cx", d => xScale(d[0]))
            .attr("cy", d => yScale(d[1]))
            .attr("r", 1.35)
            .attr("fill", "#000")

        g.append("rect")
            .attr("x", x0).attr("y", y0)
            .attr("width", panelW).attr("height", y1 - y0)
            .attr("fill", "none")
            .attr("stroke", "#8c8c8c").attr("stroke-width", 0.9)

        g.append("rect")
            .attr("x", x0).attr("y", top)
            .attr("width", panelW).attr("height", stripH)
            .attr("fill", "#d9d9d9")
            .attr("stroke", "#8c8c8c").attr("stroke-width", 0.9)

        g.append("text")
            .attr("x", (x0 + x1) / 2)
            .attr("y", top + stripH / 2 + 3.8)
            .attr("text-anchor", "middle")
            .attr("font-size", "10.5px")
            .attr("fill", "#1a1a1a")
            .text(name)
    })
})
</script>
</body>
</html>
